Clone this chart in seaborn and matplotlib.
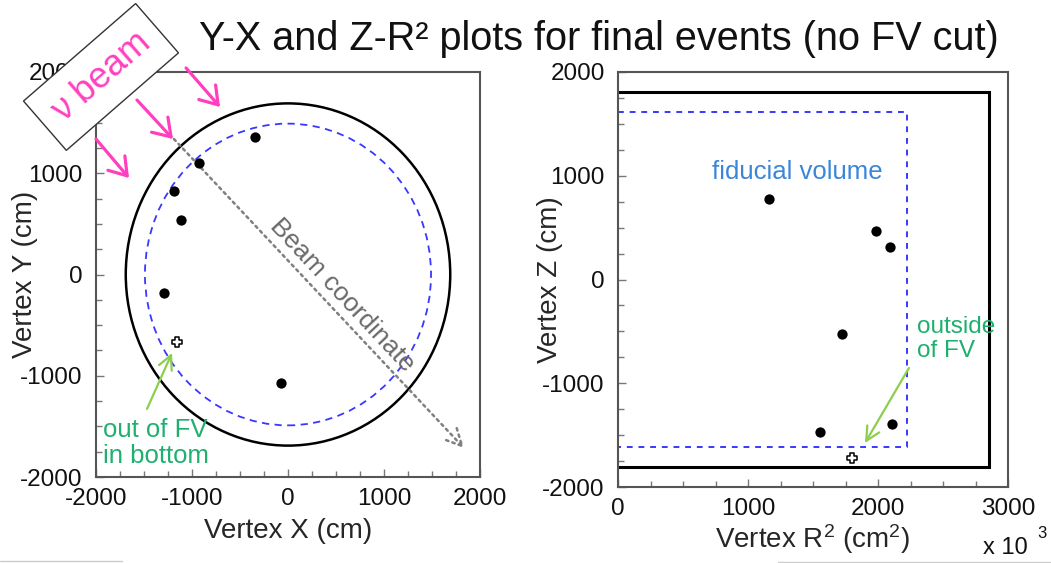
import matplotlib
matplotlib.use("Agg")
import matplotlib.pyplot as plt
import seaborn as sns
from matplotlib.patches import Circle
from matplotlib.lines import Line2D
from matplotlib.ticker import MultipleLocator

# Detector geometry (cm)
ID_RADIUS = 1690
ID_HALF_HEIGHT = 1810
FV_RADIUS = 1490
FV_HALF_HEIGHT = 1610

# Final-sample vertices, Y-X view (cm)
vertex_x = [-345, -927, -1188, -1115, -1292, -73]
vertex_y = [1358, 1101, 825, 538, -183, -1071]
# event reconstructed outside the fiducial volume
outside_x = [-1156]
outside_y = [-666]

# Z-R^2 view, R^2 in units of 10^3 cm^2
vertex_r2 = [1162, 1985, 2092, 1723, 1554, 2108]
vertex_z = [776, 468, 314, -525, -1470, -1393]
outside_r2 = [1800]
outside_z = [-1720]

xy_ticks = [-2000, -1000, 0, 1000, 2000]
r2_ticks = [0, 1000, 2000, 3000]
z_ticks = [-2000, -1000, 0, 1000, 2000]

sns.set_theme(style="white")
plt.rcParams["font.family"] = ["Liberation Sans", "DejaVu Sans"]
plt.rcParams["axes.unicode_minus"] = False
plt.rcParams["mathtext.fontset"] = "custom"
plt.rcParams["mathtext.rm"] = "Liberation Sans"
plt.rcParams["mathtext.it"] = "Liberation Sans"
plt.rcParams["mathtext.default"] = "rm"

PINK = "#ff3fbf"
GREEN_TXT = "#1fb070"
GREEN_ARROW = "#8ccf4d"
FV_BLUE = "#3838ff"
W, H = 1051, 563

fig = plt.figure(figsize=(W / 100, H / 100), dpi=100)
ax1 = fig.add_axes([96 / W, 1 - 477 / H, 384 / W, 405 / H])
ax2 = fig.add_axes([618 / W, 1 - 487 / H, 390 / W, 415 / H])


def style_axes(ax):
    for sp in ax.spines.values():
        sp.set_color("#555555")
        sp.set_linewidth(1.5)
    ax.tick_params(which="both", direction="in", top=False, right=False,
                   color="#777777", width=1.0, labelsize=17.5,
                   labelcolor="#111111")
    ax.tick_params(which="major", length=6)
    ax.tick_params(which="minor", length=4)
    ax.tick_params(axis="x", which="both", bottom=True, pad=8)
    ax.tick_params(axis="y", which="both", left=True, pad=9.5)
    ax.xaxis.set_minor_locator(MultipleLocator(250))
    ax.yaxis.set_minor_locator(MultipleLocator(250))
    ax.grid(False)


# ---------------- Y-X view ----------------
ax1.add_patch(Circle((0, 0), ID_RADIUS, fill=False, ec="black", lw=1.8, zorder=2))
ax1.add_patch(Circle((0, 0), FV_RADIUS, fill=False, ec=FV_BLUE, lw=1.3,
                     ls=(0, (4, 3)), zorder=2))
sns.scatterplot(x=vertex_x, y=vertex_y, ax=ax1, color="black", s=55,
                linewidth=0, zorder=4, legend=False)
sns.scatterplot(x=outside_x, y=outside_y, ax=ax1, marker="P", s=55,
                facecolor="white", edgecolor="black", linewidth=1.1,
                zorder=4, legend=False)
ax1.set_xlim(-2000, 2000)
ax1.set_ylim(-2000, 2000)
ax1.set_xticks(xy_ticks)
ax1.set_yticks(xy_ticks)
style_axes(ax1)
ax1.set_xlabel("Vertex X (cm)", fontsize=20)
ax1.set_ylabel("Vertex Y (cm)", fontsize=20)
ax1.xaxis.set_label_coords(0.5, -0.1)
ax1.yaxis.set_label_coords(-0.15, 0.5)

# beam direction
ax1.annotate("", xy=(1833, -1714), xytext=(-1188, 1338),
             arrowprops=dict(arrowstyle="->,head_length=0.6,head_width=0.3",
                             color="#808080", lw=1.8, linestyle=":",
                             mutation_scale=20, shrinkA=0, shrinkB=0),
             annotation_clip=False, zorder=3)
ax1.text(560, -200, "Beam coordinate", rotation=-47, rotation_mode="anchor",
         ha="center", va="center", color="#6a6a6a", fontsize=19, zorder=3)

for start, end in [((-1062, 2040), (-708, 1654)),
                   ((-1573, 1723), (-1198, 1338)),
                   ((-2000, 1338), (-1656, 953))]:
    ax1.annotate("", xy=end, xytext=start,
                 arrowprops=dict(arrowstyle="->,head_length=0.6,head_width=0.4",
                                 color=PINK, lw=2.3, mutation_scale=20,
                                 shrinkA=0, shrinkB=0),
                 annotation_clip=False, zorder=6)

ax1.annotate("", xy=(-1208, -775), xytext=(-1469, -1328),
             arrowprops=dict(arrowstyle="->,head_length=0.5,head_width=0.25",
                             color=GREEN_ARROW, lw=1.6, mutation_scale=20,
                             shrinkA=0, shrinkB=0), zorder=5)
ax1.text(-1927, -1664, "out of FV\nin bottom", ha="left", va="center",
         color=GREEN_TXT, fontsize=18.5, linespacing=1.15, zorder=5)

fig.text(-1948, 1951, "\u03bd beam", transform=ax1.transData, rotation=41,
         rotation_mode="anchor", ha="center", va="center", color=PINK,
         fontsize=26, zorder=10,
         bbox=dict(boxstyle="square,pad=0.42", fc="white", ec="#333333", lw=1.0))

# ---------------- Z-R^2 view ----------------
r2_id = ID_RADIUS ** 2 / 1000
r2_fv = FV_RADIUS ** 2 / 1000
ax2.plot([0, r2_id, r2_id, 0], [ID_HALF_HEIGHT, ID_HALF_HEIGHT,
                                -ID_HALF_HEIGHT, -ID_HALF_HEIGHT],
         color="black", lw=2.2, zorder=2, solid_joinstyle="miter")
ax2.plot([0, r2_fv, r2_fv, 0], [FV_HALF_HEIGHT, FV_HALF_HEIGHT,
                                -FV_HALF_HEIGHT, -FV_HALF_HEIGHT],
         color=FV_BLUE, lw=1.4, ls=(0, (3, 3)), zorder=2)
sns.scatterplot(x=vertex_r2, y=vertex_z, ax=ax2, color="black", s=55,
                linewidth=0, zorder=4, legend=False)
sns.scatterplot(x=outside_r2, y=outside_z, ax=ax2, marker="P", s=55,
                facecolor="white", edgecolor="black", linewidth=1.1,
                zorder=4, legend=False)
ax2.set_xlim(0, 3000)
ax2.set_ylim(-2000, 2000)
ax2.set_xticks(r2_ticks)
ax2.set_yticks(z_ticks)
style_axes(ax2)
ax2.set_xlabel("Vertex R$^{2}$ (cm$^{2}$)", fontsize=20)
ax2.set_ylabel("Vertex Z (cm)", fontsize=20)
ax2.xaxis.set_label_coords(0.5, -0.085)
ax2.yaxis.set_label_coords(-0.14, 0.5)

ax2.text(1377, 1036, "fiducial volume", ha="center", va="center",
         color="#3a86d8", fontsize=18.5)
ax2.text(2300, -573, "outside\nof FV", ha="left", va="center",
         color=GREEN_TXT, fontsize=17.5, linespacing=1.15)
ax2.annotate("", xy=(1900, -1576), xytext=(2238, -853),
             arrowprops=dict(arrowstyle="->,head_length=0.5,head_width=0.25",
                             color=GREEN_ARROW, lw=1.6, mutation_scale=20,
                             shrinkA=0, shrinkB=0), zorder=5)

# axis multiplier and title
fig.text(983 / W, 1 - 548 / H, "x 10", ha="left", va="center",
         fontsize=17, color="#111111")
fig.text(1037 / W, 1 - 533 / H, "3", ha="left", va="center",
         fontsize=12, color="#111111")
fig.text(599 / W, 1 - 50 / H, "Y-X and Z-R\u00b2 plots for final events (no FV cut)",
         ha="center", va="baseline", fontsize=28.5, color="#111111")

# slide border remnants along the bottom edge
fig.add_artist(Line2D([0, 122 / W], [1 - 561 / H] * 2, color="#cccccc", lw=1))
fig.add_artist(Line2D([778 / W, 1], [1 - 562 / H] * 2, color="#cccccc", lw=1))

fig.savefig("out.png", dpi=100)
